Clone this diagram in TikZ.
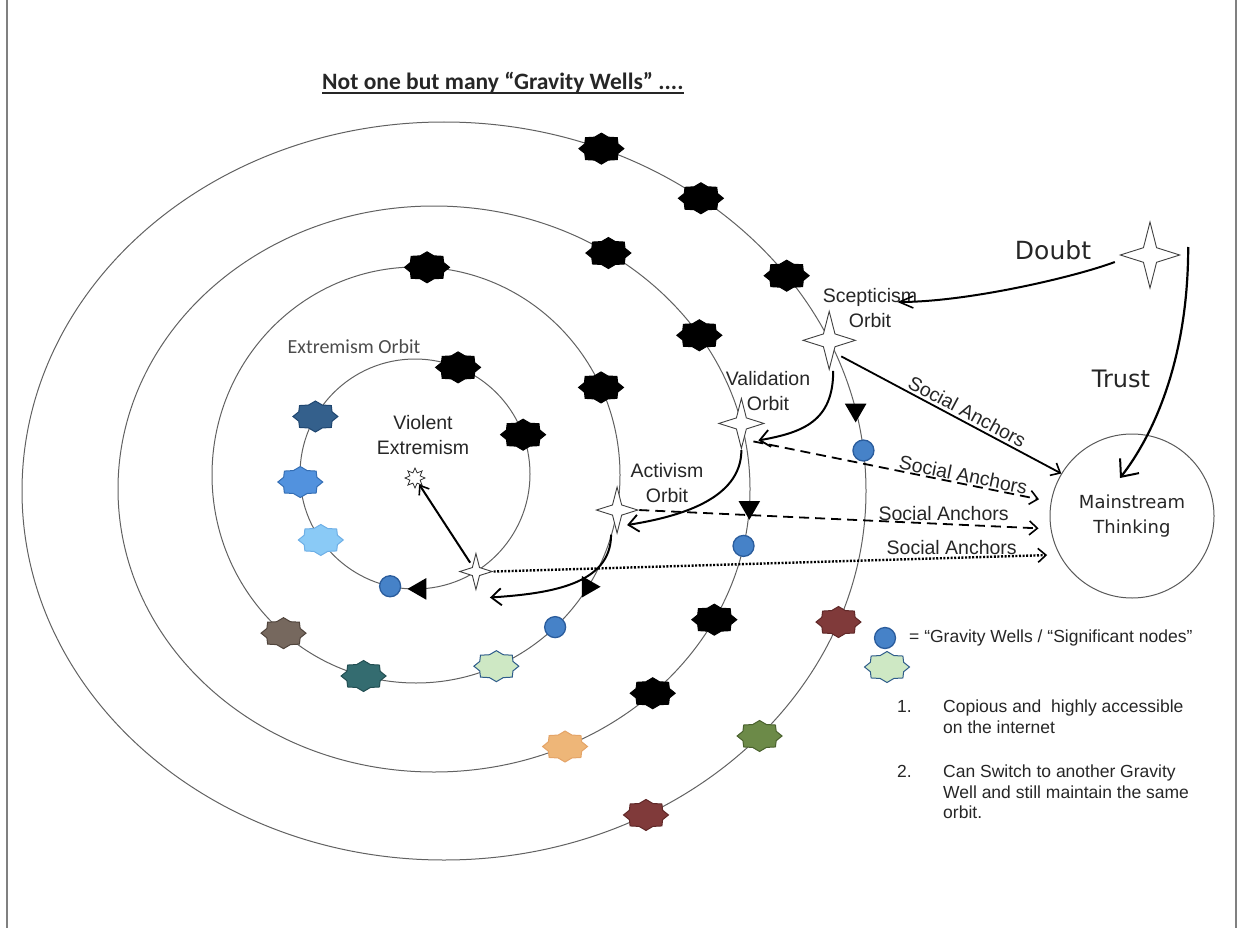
\documentclass[tikz,border=0pt]{standalone}
\usepackage{fontspec}
\setmainfont{Liberation Sans}
\newfontfamily\calibrifont{Carlito}
\newfontfamily\dejafont{DejaVu Sans}
\usetikzlibrary{arrows.meta}
\usetikzlibrary{shapes.geometric}

\definecolor{wdarkblue}{RGB}{52,96,140}
\definecolor{wdarkblueline}{RGB}{31,70,112}
\definecolor{wblue}{RGB}{82,146,222}
\definecolor{wblueline}{RGB}{52,110,180}
\definecolor{wlightblue}{RGB}{138,202,246}
\definecolor{wlightblueline}{RGB}{110,175,230}
\definecolor{wtaupe}{RGB}{118,104,94}
\definecolor{wtaupeline}{RGB}{80,68,60}
\definecolor{wteal}{RGB}{52,108,112}
\definecolor{wtealline}{RGB}{34,78,82}
\definecolor{wmint}{RGB}{206,232,196}
\definecolor{wmintline}{RGB}{46,92,138}
\definecolor{worange}{RGB}{238,182,120}
\definecolor{worangeline}{RGB}{228,164,104}
\definecolor{wbrick}{RGB}{128,58,58}
\definecolor{wbrickline}{RGB}{96,40,40}
\definecolor{wolive}{RGB}{108,138,72}
\definecolor{woliveline}{RGB}{74,98,46}
\definecolor{wdot}{RGB}{70,130,200}
\definecolor{wdotline}{RGB}{42,92,156}

\tikzset{
  orbit/.style={draw=black!62, line width=1pt},
  well/.style 2 args={star, star points=8, star point ratio=1.25, minimum size=31pt, inner sep=0pt, xscale=1.45, fill=#1, draw=#2, line width=1pt},
  gwell/.style={circle, fill=wdot, draw=wdotline, line width=1.3pt, minimum size=21pt, inner sep=0pt},
  tri/.style={regular polygon, regular polygon sides=3, fill=black, minimum size=25pt, inner sep=0pt},
  orbitstar/.style={star, star points=4, star point ratio=3.2, draw=black!75, fill=white, line width=0.9pt, inner sep=0pt, minimum size=#1, xscale=0.9},
  sun/.style={star, star points=8, star point ratio=1.8, draw=black!80, fill=white, line width=0.8pt, minimum size=20pt, inner sep=0pt},
  lbl/.style={font=\fontsize{19.5}{25}\selectfont, text=black!85, align=center, inner sep=0pt},
  anchorlbl/.style={font=\fontsize{19.5}{24}\selectfont, text=black!85, inner sep=2.5pt},
  legend/.style={font=\fontsize{17.5}{20.5}\selectfont, text=black!85, inner sep=0pt},
  swing/.style={line width=2pt, -{Straight Barb[length=10pt, width=17pt, line width=1.8pt]}},
  anchorline/.style={line width=1.8pt, -{Straight Barb[length=8pt, width=14pt, line width=1.6pt]}},
}

\begin{document}
\begin{tikzpicture}[x=1pt, y=1pt]
    \useasboundingbox (0,0) rectangle (1241,-928);
    \draw[black!50, line width=1.5pt] (7,0) -- (7,-928);
    \draw[black!50, line width=1.5pt] (1236,0) -- (1236,-928);

    \node[anchor=base west, inner sep=0pt, font=\calibrifont\bfseries\fontsize{23.5}{28}\selectfont, text=black!85] (title) at (322,-90) {Not one but many “Gravity Wells” ....};
    \draw[black!85, line width=1.5pt] ([yshift=-3pt]title.base west) -- ([yshift=-3pt]title.base east);

    \begin{scope}[shift={(444,-491)}]
        \draw[orbit] (0,0) ellipse (422 and 369);
        \node[well={black}{black}] at (68.1:422 and 369) {};
        \node[well={black}{black}] at (52.5:422 and 369) {};
        \node[well={black}{black}] at (35.7:422 and 369) {};
        \node[orbitstar=58pt] (sceps) at (24.1:422 and 369) {};
        \node[tri, shape border rotate=180] at (12.7:422 and 369) {};
        \node[gwell] at (6.3:422 and 369) {};
        \node[well={wbrick}{wbrickline}] at (-20.8:422 and 369) {};
        \node[well={wolive}{woliveline}] at (-41.6:422 and 369) {};
        \node[well={wbrick}{wbrickline}] at (-61.4:422 and 369) {};
    \end{scope}

    \begin{scope}[shift={(434,-489)}]
        \draw[orbit] (0,0) ellipse (316 and 283);
        \node[well={black}{black}] at (56.5:316 and 283) {};
        \node[well={black}{black}] at (32.9:316 and 283) {};
        \node[orbitstar=50pt] (valid) at (13.4:316 and 283) {};
        \node[tri, shape border rotate=180] at (-3.7:316 and 283) {};
        \node[gwell] at (-11.6:316 and 283) {};
        \node[well={black}{black}] at (-27.5:316 and 283) {};
        \node[well={black}{black}] at (-46.2:316 and 283) {};
        \node[well={worange}{worangeline}] at (-65.5:316 and 283) {};
    \end{scope}

    \begin{scope}[shift={(416,-475)}]
        \draw[orbit] (0,0) ellipse (204 and 208);
        \node[well={black}{black}] at (86.9:204 and 208) {};
        \node[well={black}{black}] at (24.9:204 and 208) {};
        \node[orbitstar=46pt] (activ) at (-9.7:204 and 208) {};
        \node[tri, shape border rotate=-90] at (-32.5:204 and 208) {};
        \node[gwell] at (-47:204 and 208) {};
        \node[well={wmint}{wmintline}] at (-66.8:204 and 208) {};
        \node[well={wteal}{wtealline}] at (-104.9:204 and 208) {};
        \node[well={wtaupe}{wtaupeline}] at (-130.5:204 and 208) {};
    \end{scope}

    \begin{scope}[shift={(415,-474)}]
        \draw[orbit] (0,0) circle (115);
        \node[well={black}{black}] at (68:115) {};
        \node[well={black}{black}] at (20:115) {};
        \node[well={wdarkblue}{wdarkblueline}] at (150:115) {};
        \node[well={wblue}{wblueline}] at (184:115) {};
        \node[well={wlightblue}{wlightblueline}] at (215:115) {};
        \node[gwell] at (257.5:115) {};
        \node[tri, shape border rotate=90] at (272.5:115) {};
        \node[orbitstar=36pt] (extr) at (302:115) {};
    \end{scope}

    \node[sun] (sun) at (415,-478) {};
    \node[lbl, font=\calibrifont\fontsize{20}{24}\selectfont, text=black!70] (extrl) at (354,-347) {Extremism Orbit};
    \node[lbl] (violl) at (423,-435) {Violent\\Extremism};
    \node[lbl] (activl) at (667,-483) {Activism\\Orbit};
    \node[lbl] (validl) at (768,-391) {Validation\\Orbit};
    \node[lbl] (scepl) at (870,-308) {Scepticism\\Orbit};

    \node[inner sep=0pt, font=\dejafont\fontsize{25}{30}\selectfont, text=black!85] (doubt) at (1053,-250) {Doubt};
    \node[orbitstar=66pt] (dstar) at (1150,-255) {};
    \node[inner sep=0pt, font=\dejafont\fontsize{24}{30}\selectfont, text=black!85] (trust) at (1121,-379) {Trust};
    \node[circle, draw=black!65, line width=1pt, minimum size=164pt, inner sep=0pt, align=center, font=\dejafont\fontsize{18}{25}\selectfont, text=black!85] (main) at (1132,-516) {Mainstream\\Thinking};

    \draw[swing] ([xshift=4pt]sceps.south) .. controls +(0,-50) and +(45,8) .. ([shift={(17pt,-17pt)}]valid.center);
    \draw[swing] (valid.south) .. controls +(0,-50) and +(50,8) .. ([shift={(10pt,-15pt)}]activ.center);
    \draw[swing] ([xshift=-6pt]activ.south) .. controls +(0,-50) and +(60,4) .. ([shift={(14pt,-26pt)}]extr.center);
    \draw[line width=2pt, shorten <=4pt, -{Straight Barb[length=8pt, width=12pt, line width=1.6pt]}] (extr) -- (sun);

    \draw[anchorline] ([shift={(12pt,-16pt)}]sceps.center) -- (main.149) node[pos=.55, above, sloped, anchorlbl] {Social Anchors};
    \draw[anchorline, dash pattern=on 10pt off 6pt, shorten >=12pt] ([shift={(12pt,-18pt)}]valid.center) -- (main.170) node[pos=.7, above, sloped, anchorlbl, inner sep=1pt] {Social Anchors};
    \draw[anchorline, dash pattern=on 10pt off 6pt, shorten >=12pt] (activ.east) -- (main.189) node[pos=.74, above, anchorlbl] {Social Anchors};
    \draw[anchorline, dash pattern=on 2pt off 1.6pt, line width=2.4pt, shorten >=12pt] (extr.east) -- (main.208) node[pos=.81, above, anchorlbl] {Social Anchors};

    \draw[line width=2pt, -{Straight Barb[length=14pt, width=12pt, line width=1.6pt]}] ([shift={(-4pt,-7pt)}]dstar.west) .. controls +(-40,-15) and +(70,0) .. ([shift={(-20pt,6pt)}]scepl.east);
    \draw[line width=2.2pt, -{Straight Barb[length=14pt, width=24pt, line width=2pt]}] ([shift={(7pt,8pt)}]dstar.east) .. controls +(0,-110) and +(35,45) .. ([shift={(-12pt,38pt)}]main.center);

    \node[gwell] (legdot) at (885,-638) {};
    \node[legend, anchor=west] (legtxt) at (909,-638) {= “Gravity Wells / “Significant nodes”};
    \node[well={wmint}{wmintline}] (legstar) at (887,-667) {};
    \node[legend, anchor=north west] (num1) at (897,-700) {1.};
    \node[legend, anchor=north west, align=left] (item1) at (943,-700) {Copious and\ \ highly accessible\\on the internet};
    \node[legend, anchor=north west] (num2) at (897,-765) {2.};
    \node[legend, anchor=north west, align=left] (item2) at (943,-765) {Can Switch to another Gravity\\Well and still maintain the same\\orbit.};
\end{tikzpicture}
\end{document}
